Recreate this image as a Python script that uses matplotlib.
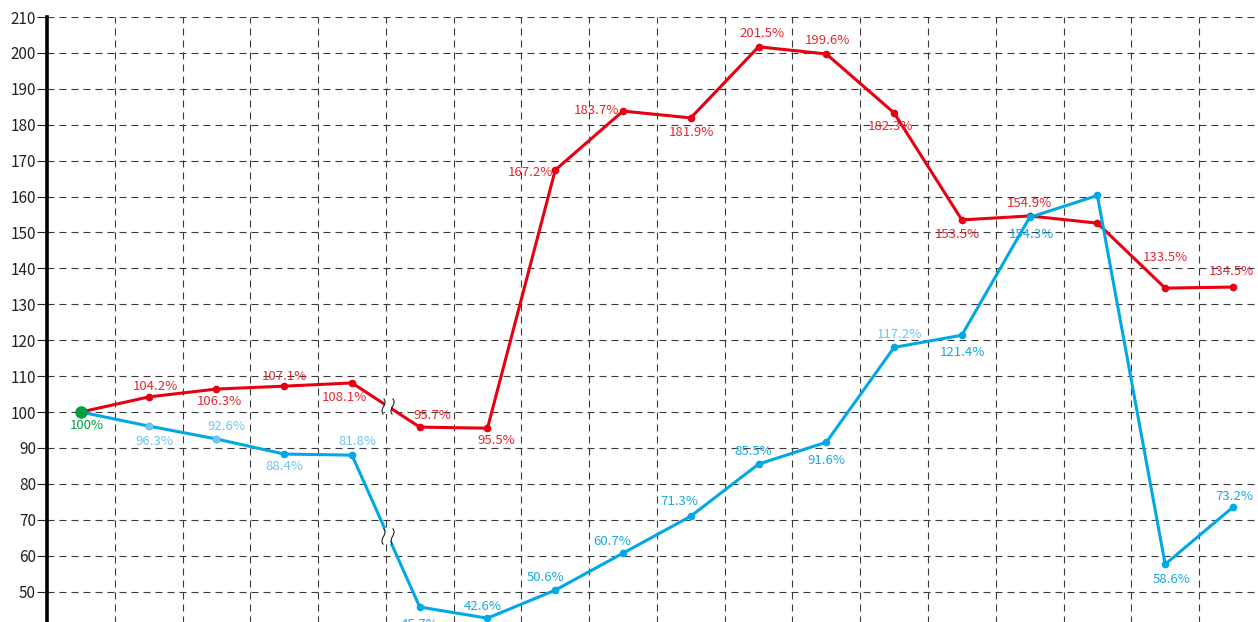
import matplotlib
matplotlib.use("Agg")
import matplotlib.pyplot as plt
from matplotlib.path import Path
import matplotlib.transforms as mtrans
import numpy as np

plt.rcParams['font.family'] = ['Noto Sans CJK JP', 'DejaVu Sans']

# ---------------- data ----------------
idx = list(range(18))
red_values = [100, 104.2, 106.4, 107.2, 108.1, 95.8, 95.5, 167.4, 183.8, 181.9,
              201.7, 199.7, 183.3, 153.5, 154.6, 152.6, 134.5, 134.8]
red_labels = ["", "104.2%", "106.3%", "107.1%", "108.1%", "95.7%", "95.5%", "167.2%",
              "183.7%", "181.9%", "201.5%", "199.6%", "182.3%", "153.5%", "154.9%", "",
              "133.5%", "134.5%"]
blue_values = [100, 96.1, 92.5, 88.3, 88.0, 45.7, 42.6, 50.4, 60.7, 71.0,
               85.5, 91.6, 118.0, 121.4, 154.2, 160.3, 57.6, 73.5]
blue_labels = ["100%", "96.3%", "92.6%", "88.4%", "81.8%", "45.7%", "42.6%", "50.6%",
               "60.7%", "71.3%", "85.5%", "91.6%", "117.2%", "121.4%", "154.3%", "",
               "58.6%", "73.2%"]
y_ticks = list(range(40, 211, 10))

# label offsets in pixels (dx right, dy down)
red_off = [(0, 0), (7, -10), (3, 12), (0, -10), (-8, 15), (13, -12), (9, 12), (-25, 3),
           (-27, -1), (1, 15), (3, -13), (1, -13), (-4, 14), (-5, 15), (0, -12), (0, 0),
           (0, -31), (-2, -16)]
blue_off = [(6, 13), (6, 15), (10, -12), (0, 12), (5, -14), (0, 17), (-5, -12), (-10, -13),
            (-11, -12), (-11, -15), (-5, -13), (0, 18), (5, -13), (1, 17), (2, 17), (0, 0),
            (6, 15), (1, -11)]

RED = '#e60012'
RED_T = '#e8252f'
BLUE = '#00a8e6'
BLUE_T = '#18a9e2'
BLUE_L = '#6cc6f0'
GREEN = '#00a040'

W, H = 1258, 622
fig = plt.figure(figsize=(W / 100, H / 100), dpi=100)
left = 47 / W
top = 1 - 17 / H
bottom = 1 - 627.5 / H
ax = fig.add_axes([left, bottom, 1 - left, top - bottom])
ax.set_xlim(-0.5, 17.37)
ax.set_ylim(40, 210)

# grid
GRID_LS = (0, (6.3, 4.5))
for yv in y_ticks:
    ax.axhline(yv, color='#3a3a3a', lw=0.8, ls=GRID_LS, zorder=1)
for xv in np.arange(0.5, 17, 1):
    ax.axvline(xv, color='#3a3a3a', lw=0.8, ls=GRID_LS, zorder=1)

ax.set_yticks(y_ticks)
ax.set_xticks([])
for s in ['top', 'right', 'bottom']:
    ax.spines[s].set_visible(False)
ax.spines['left'].set_linewidth(2.6)
ax.spines['left'].set_color('black')
ax.tick_params(axis='y', direction='out', length=7, width=0.8, labelsize=11, pad=1,
               colors='#222222')

# lines
ax.plot(idx, red_values, color=RED, lw=2.2, marker='o', ms=4.5, zorder=3,
        solid_joinstyle='miter')
ax.plot(idx, blue_values, color=BLUE, lw=2.2, marker='o', ms=4.5, zorder=3,
        solid_joinstyle='miter')
ax.plot(idx[1:3], blue_values[1:3], ls='none', marker='o', ms=4.5, color=BLUE_L, zorder=4)
ax.plot([idx[0]], [blue_values[0]], ls='none', marker='o', ms=8, color=GREEN, zorder=5)


def label(x, y, text, off, color):
    if not text:
        return
    ax.annotate(text, (x, y), xytext=(off[0] * 0.72, -off[1] * 0.72),
                textcoords='offset points', ha='center', va='center',
                fontsize=9.5, color=color, zorder=6, annotation_clip=False)


for i in idx:
    label(i, red_values[i], red_labels[i], red_off[i], RED_T)
for i in idx:
    if i == 0:
        c = GREEN
    elif i <= 4 or i == 12:
        c = BLUE_L
    else:
        c = BLUE_T
    label(i, blue_values[i], blue_labels[i], blue_off[i], c)

# break marks on segment 4-5
gap = Path([(-0.4, -1), (0.4, -1), (0.4, 1), (-0.4, 1), (-0.4, -1)],
           [Path.MOVETO, Path.LINETO, Path.LINETO, Path.LINETO, Path.CLOSEPOLY])
wave = Path([(0, -1), (-0.7, -0.35), (0.7, 0.35), (0, 1)],
            [Path.MOVETO, Path.CURVE4, Path.CURVE4, Path.CURVE4])
bx = 4.53
for vals in (red_values, blue_values):
    by = vals[4] + (vals[5] - vals[4]) * (bx - 4)
    ax.plot([bx], [by], marker=gap, ms=12, color='white', mec='white', mew=0, zorder=4.5)
    for dxp in (-4.5, 4.5):
        off = mtrans.offset_copy(ax.transData, fig=fig, x=dxp * 0.72, y=0, units='points')
        ax.plot([bx], [by], marker=wave, ms=11.5, mfc='none', mec='#222222', mew=0.8,
                ls='none', transform=off, zorder=4.6)

fig.savefig('out.png', dpi=100)
